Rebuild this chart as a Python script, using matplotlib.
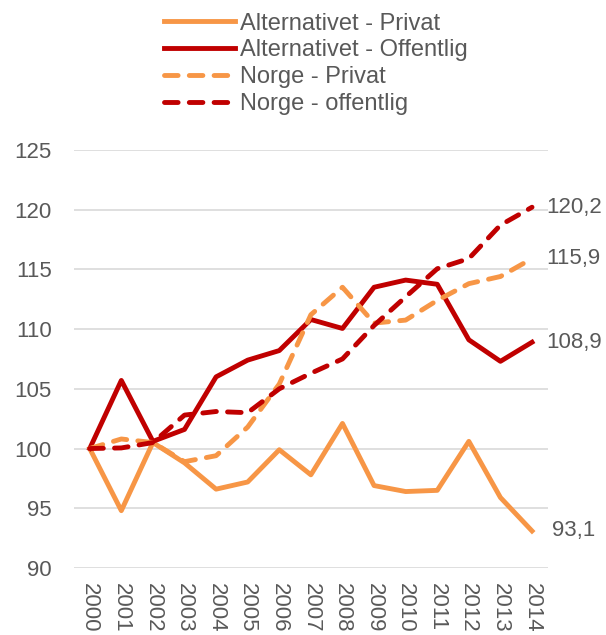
import matplotlib.pyplot as plt

plt.rcParams['font.family'] = ['Liberation Sans', 'DejaVu Sans']

years = [str(y) for y in range(2000, 2015)]

alt_privat = [100, 94.8, 100.5, 98.8, 96.6, 97.2, 99.9, 97.8, 102.1, 96.9, 96.4, 96.5, 100.6, 95.9, 93.1]
alt_offentlig = [100, 105.7, 100.6, 101.6, 106.0, 107.4, 108.2, 110.8, 110.05, 113.5, 114.1, 113.75, 109.1, 107.3, 108.9]
norge_privat = [100, 100.8, 100.5, 98.9, 99.4, 101.8, 105.4, 111.2, 113.5, 110.5, 110.75, 112.4, 113.8, 114.4, 115.9]
norge_offentlig = [100, 100.05, 100.5, 102.8, 103.1, 103.0, 105.0, 106.3, 107.5, 110.3, 112.7, 115.05, 115.9, 118.7, 120.2]

series_names = ["Alternativet - Privat", "Alternativet - Offentlig",
                "Norge - Privat", "Norge - offentlig"]

orange = "#F79646"
red = "#C00000"
txt = "#595959"
fs = 16

fig = plt.figure(figsize=(6.06, 6.35), dpi=100)
ax = fig.add_axes([0.122, 0.1055, 0.782, 0.6585])

x = list(range(len(years)))
lw = 3.5
dash = (2.8, 2.3)
ax.plot(x, alt_privat, color=orange, lw=lw, label=series_names[0], solid_joinstyle="round")
ax.plot(x, alt_offentlig, color=red, lw=lw, label=series_names[1], solid_joinstyle="round")
ax.plot(x, norge_privat, color=orange, lw=lw, ls=(0, dash), label=series_names[2], dash_capstyle="round")
ax.plot(x, norge_offentlig, color=red, lw=lw, ls=(0, dash), label=series_names[3], dash_capstyle="round")

# end labels
for s in [alt_privat, alt_offentlig, norge_privat, norge_offentlig]:
    v = s[-1]
    ax.annotate(f"{v:.1f}".replace(".", ","), xy=(x[-1], v), xytext=(30, 0),
                textcoords="offset points", va="center", ha="center",
                fontsize=fs, color=txt, annotation_clip=False)

ax.set_xlim(-0.5, len(years) - 0.5)
ax.set_ylim(90, 125)
ax.set_yticks(range(90, 126, 5))
ax.set_xticks(x)
ax.set_xticklabels(years, rotation=270, fontsize=fs, color=txt)
ax.tick_params(axis="y", labelsize=fs, labelcolor=txt, length=0, pad=16)
ax.tick_params(axis="x", length=0, pad=11)
ax.grid(axis="y", color="#D9D9D9", lw=1.2)
ax.set_axisbelow(True)
for sp in ax.spines.values():
    sp.set_visible(False)

leg = fig.legend(loc="upper left", bbox_to_anchor=(0.255, 0.995), frameon=False,
                 fontsize=17, handlelength=3.0, handletextpad=0.2,
                 labelspacing=0.2, borderaxespad=0.2, borderpad=0.2)
for t in leg.get_texts():
    t.set_color(txt)

fig.savefig("out.png", dpi=100)
